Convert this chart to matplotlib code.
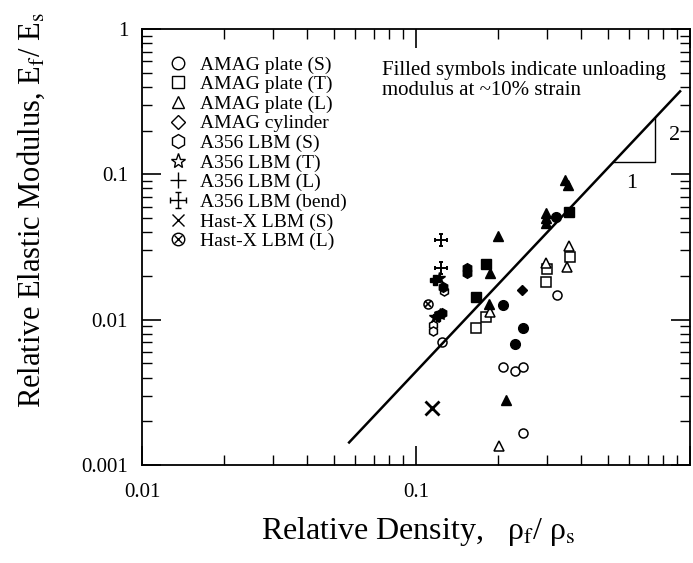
import matplotlib
matplotlib.use("Agg")
import matplotlib.pyplot as plt
from matplotlib.lines import Line2D
from matplotlib.path import Path
import numpy as np

plt.rcParams['font.family'] = ['Liberation Serif', 'DejaVu Serif']
plt.rcParams['mathtext.fontset'] = 'stix'

# datos (densidad relativa, modulo relativo)
amag_s_open_x = [0.124, 0.207, 0.230, 0.245, 0.245, 0.326]
amag_s_open_y = [0.0070, 0.00474, 0.00445, 0.00474, 0.00165, 0.0148]
amag_s_fill_x = [0.207, 0.245, 0.230, 0.324]
amag_s_fill_y = [0.0126, 0.0087, 0.00676, 0.0511]

amag_t_open_x = [0.180, 0.166, 0.300, 0.2985, 0.364]
amag_t_open_y = [0.0105, 0.0087, 0.0222, 0.0181, 0.0271]
amag_t_fill_x = [0.180, 0.166, 0.363]
amag_t_fill_y = [0.0241, 0.0144, 0.0553]

amag_l_open_x = [0.186, 0.201, 0.2985, 0.362, 0.357]
amag_l_open_y = [0.0113, 0.00135, 0.0247, 0.0321, 0.0229]
amag_l_fill_x = [0.186, 0.200, 0.185, 0.213, 0.2985, 0.2985, 0.2985, 0.350, 0.360]
amag_l_fill_y = [0.021, 0.0376, 0.0129, 0.0028, 0.0539, 0.0498, 0.046, 0.0914, 0.0844]

cyl_fill_x = [0.243]
cyl_fill_y = [0.016]

a356_s_open_x = [0.115, 0.115, 0.127]
a356_s_open_y = [0.0092, 0.0084, 0.0157]
a356_s_fill_x = [0.153, 0.153, 0.125, 0.124]
a356_s_fill_y = [0.0228, 0.0208, 0.0168, 0.0112]

a356_t_fill_x = [0.121, 0.117, 0.122]
a356_t_fill_y = [0.0195, 0.0105, 0.0110]

a356_l_fill_x = [0.117, 0.120]
a356_l_fill_y = [0.0188, 0.0106]

bend_x = [0.123, 0.123]
bend_y = [0.0353, 0.0225]

hast_s_x = [0.114]
hast_s_y = [0.00246]
hast_l_x = [0.111]
hast_l_y = [0.0128]

# ajuste E/Es = C (rho)^2
C = 0.44
rho_fit = np.array([0.057, 0.92])

# marcador de cruz con remates (A356 bend)
c = 0.35
verts = [(-1, 0), (1, 0), (0, -1), (0, 1),
         (-1, -c), (-1, c), (1, -c), (1, c),
         (-c, -1), (c, -1), (-c, 1), (c, 1)]
codes = [Path.MOVETO, Path.LINETO] * 6
bend_marker = Path(verts, codes)

fig = plt.figure(figsize=(6.93, 5.63), dpi=100)
ax = fig.add_axes([142 / 693, 1 - 465 / 563, 548 / 693, 436 / 563])
ax.set_xscale('log')
ax.set_yscale('log')
ax.set_xlim(0.01, 1)
ax.set_ylim(0.001, 1)

abiertos = dict(color='black', mfc='white', mec='black', mew=1.1, ls='none', ms=6.5)
llenos = dict(color='black', mfc='black', mec='black', mew=1.0, ls='none', ms=7)

ax.plot(amag_s_open_x, amag_s_open_y, 'o', **abiertos)
ax.plot(amag_s_fill_x, amag_s_fill_y, 'o', **llenos)
ax.plot(amag_t_open_x, amag_t_open_y, 's', **abiertos)
ax.plot(amag_t_fill_x, amag_t_fill_y, 's', **llenos)
ax.plot(amag_l_open_x, amag_l_open_y, '^', **abiertos)
ax.plot(amag_l_fill_x, amag_l_fill_y, '^', **llenos)
ax.plot(cyl_fill_x, cyl_fill_y, 'D', color='black', ls='none', ms=5.5)
ax.plot(a356_s_open_x, a356_s_open_y, 'h', **abiertos)
ax.plot(a356_s_fill_x, a356_s_fill_y, 'h', **llenos)
ax.plot(a356_t_fill_x, a356_t_fill_y, '*', color='black', ls='none', ms=9)
ax.plot(a356_l_fill_x, a356_l_fill_y, 'P', color='black', ls='none', ms=7)
ax.plot(bend_x, bend_y, marker=bend_marker, color='black', ls='none', ms=8, mew=1.4)
ax.plot(hast_s_x, hast_s_y, 'x', color='black', ls='none', ms=10, mew=2)
ax.plot(hast_l_x, hast_l_y, 'o', **abiertos)
ax.plot(hast_l_x, hast_l_y, 'x', color='black', ls='none', ms=5, mew=1.2)

# linea de pendiente 2
ax.plot(rho_fit, C * rho_fit ** 2, color='black', lw=1.8)

# triangulo de pendiente
tx0, tx1 = 0.524, 0.745
ax.plot([tx0, tx1, tx1], [C * tx0 ** 2, C * tx0 ** 2, C * tx1 ** 2], color='black', lw=1.0)
ax.text(0.61, 0.087, '1', fontsize=16, ha='center', va='center')
ax.text(0.88, 0.186, '2', fontsize=16, ha='center', va='center')

fig.text(382 / 693, 1 - 61 / 563, 'Filled symbols indicate unloading\nmodulus at ~10% strain',
         fontsize=15, ha='left', va='top', linespacing=1.05)

# leyenda
leg_handles = [
    Line2D([], [], marker='o', ls='none', mfc='none', mec='black', ms=9),
    Line2D([], [], marker='s', ls='none', mfc='none', mec='black', ms=9),
    Line2D([], [], marker='^', ls='none', mfc='none', mec='black', ms=9),
    Line2D([], [], marker='D', ls='none', mfc='none', mec='black', ms=7),
    Line2D([], [], marker='h', ls='none', mfc='none', mec='black', ms=10),
    Line2D([], [], marker='*', ls='none', mfc='none', mec='black', ms=11),
    Line2D([], [], marker='+', ls='none', color='black', ms=12),
    Line2D([], [], marker=bend_marker, ls='none', color='black', ms=11, mew=1),
    Line2D([], [], marker='x', ls='none', color='black', ms=9),
    (Line2D([], [], marker='o', ls='none', mfc='none', mec='black', ms=9),
     Line2D([], [], marker='x', ls='none', color='black', ms=6)),
]
leg_labels = ['AMAG plate (S)', 'AMAG plate (T)', 'AMAG plate (L)', 'AMAG cylinder',
              'A356 LBM (S)', 'A356 LBM (T)', 'A356 LBM (L)', 'A356 LBM (bend)',
              'Hast-X LBM (S)', 'Hast-X LBM (L)']
fig.legend(leg_handles, leg_labels, loc='upper left',
           bbox_to_anchor=(168 / 693, 1 - 56 / 563), frameon=False,
           fontsize=14, handlelength=1.0, handletextpad=0.65,
           labelspacing=0.1, borderpad=0, borderaxespad=0)

# ejes y marcas
ax.set_xticks([0.01, 0.1, 1])
ax.set_xticklabels(['0.01', '0.1', ''])
ax.set_yticks([0.001, 0.01, 0.1, 1])
ax.set_yticklabels(['0.001', '0.01', '0.1', '1'])
ax.tick_params(which='both', direction='in', top=True, right=True, labelsize=15)
ax.tick_params(which='major', length=14, width=1.2)
ax.tick_params(which='minor', length=7, width=1.0)
ax.tick_params(axis='x', pad=13)
ax.tick_params(axis='y', pad=10)
for s in ax.spines.values():
    s.set_linewidth(1.3)

fig.text(418 / 693, 1 - 532 / 563, 'Relative Density,   ρ$_\\mathrm{f}$/ ρ$_\\mathrm{s}$',
         fontsize=23, ha='center', va='center')
fig.text(31 / 693, 1 - 210 / 563, r'Relative Elastic Modulus, E$_\mathrm{f}$/ E$_\mathrm{s}$',
         fontsize=22, ha='center', va='center', rotation=90)

fig.savefig('out.png', dpi=100, facecolor='white')
